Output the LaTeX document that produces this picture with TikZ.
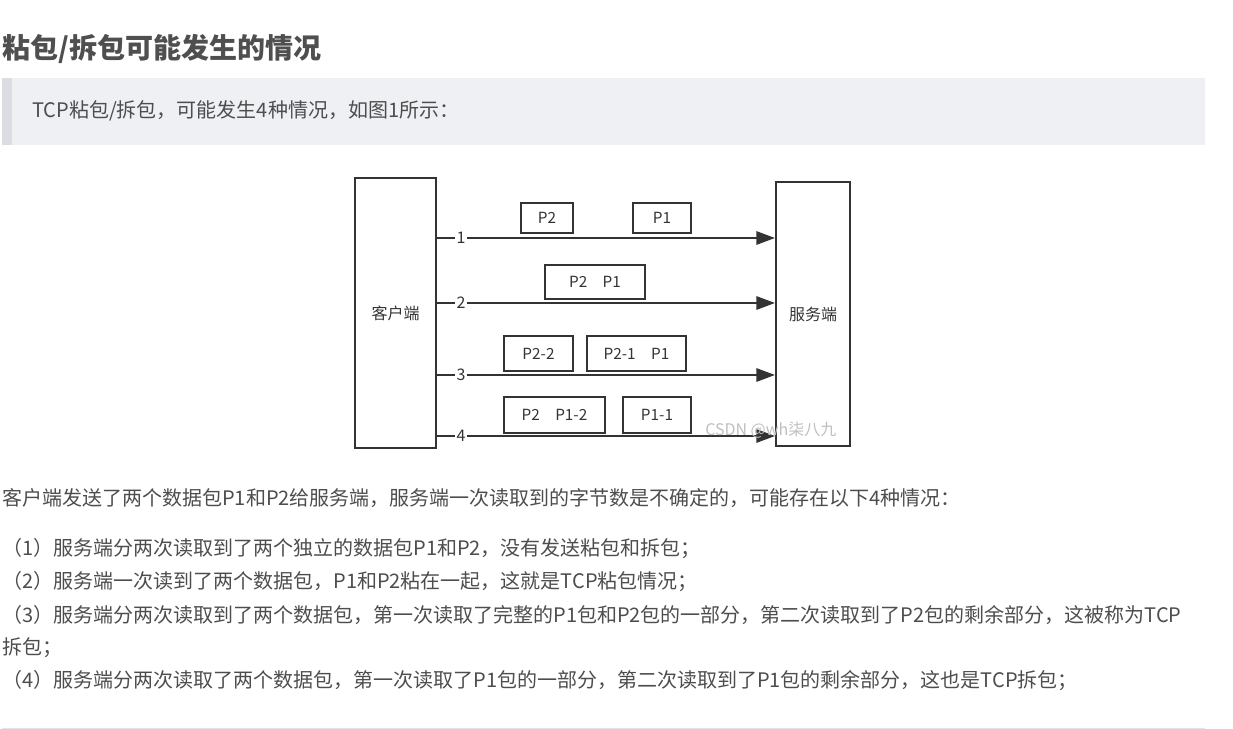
\documentclass[tikz,border=0pt]{standalone}
\usepackage{fontspec}
\setmainfont{Noto Sans CJK SC}
\usepackage{tikz}
\usetikzlibrary{arrows.meta}
\definecolor{txtgray}{HTML}{4D4D4D}
\definecolor{titlegray}{HTML}{4F4F4F}
\definecolor{linegray}{HTML}{333333}
\definecolor{quotebg}{HTML}{EEF0F4}
\definecolor{quotebar}{HTML}{DCDDE2}
\definecolor{rulegray}{HTML}{E3E3E3}

\begin{document}
\begin{tikzpicture}[x=0.75pt,y=-0.75pt,>={Triangle[length=14pt,width=10pt]},
  box/.style={draw=linegray,line width=1.5pt,inner sep=0pt,text=linegray,font=\fontsize{12pt}{12pt}\selectfont},
  pkt/.style n args={2}{box,minimum width=#1*0.75pt,minimum height=#2*0.75pt,font=\fontsize{11.5pt}{12pt}\selectfont},
  num/.style={inner sep=1pt,text=linegray,font=\fontsize{12pt}{12pt}\selectfont},
  link/.style={->,draw=linegray,line width=1.5pt},
  body/.style={anchor=west,inner sep=0pt,text=txtgray,font=\fontsize{15pt}{15pt}\selectfont}]
  \useasboundingbox (0,0) rectangle (1233,729);
  \fill[quotebg] (2,78) rectangle (1205,145);
  \fill[quotebar] (2,78) rectangle (12,145);
  \node[body,text=titlegray,font=\bfseries\fontsize{21pt}{21pt}\selectfont] (title) at (2,49) {粘包/拆包可能发生的情况};
  \node[body] (quote) at (32,111) {TCP粘包/拆包，可能发生4种情况，如图1所示：};

  \node[box,minimum width=81*0.75pt,minimum height=270*0.75pt] (client) at (395.5,313) {客户端};
  \node[box,minimum width=74*0.75pt,minimum height=264*0.75pt] (server) at (813,314) {服务端};
  \foreach \i/\y in {1/238,2/303,3/375,4/436}{
    \node[num] (n\i) at (461,\y) {\i};
    \draw[link] (client.east |- n\i) -- (n\i) -- (server.west |- n\i);
  }
  \node[pkt={52}{30}] (pa) at (547,218) {P2};
  \node[pkt={58}{30}] (pb) at (662,218) {P1};
  \node[pkt={100}{34}] (pc) at (595,282) {P2\hspace{1em}P1};
  \node[pkt={69}{35}] (pd) at (538.5,353.5) {P2-2};
  \node[pkt={99}{35}] (pe) at (636.5,353.5) {P2-1\hspace{1em}P1};
  \node[pkt={101}{36}] (pf) at (554.5,415) {P2\hspace{1em}P1-2};
  \node[pkt={68}{36}] (pg) at (657,415) {P1-1};
  \node[anchor=west,inner sep=0pt,text=black!25,font=\fontsize{12pt}{12pt}\selectfont] (mark) at (705,430) {CSDN @wh柒八九};

  \node[body] (intro) at (2,498) {客户端发送了两个数据包P1和P2给服务端，服务端一次读取到的字节数是不确定的，可能存在以下4种情况：};
  \node[body] (case1) at (2,549) {（1）服务端分两次读取到了两个独立的数据包P1和P2，没有发送粘包和拆包；};
  \node[body] (case2) at (2,582) {（2）服务端一次读到了两个数据包，P1和P2粘在一起，这就是TCP粘包情况；};
  \node[body] (case3) at (2,615) {（3）服务端分两次读取到了两个数据包，第一次读取了完整的P1包和P2包的一部分，第二次读取到了P2包的剩余部分，这被称为TCP};
  \node[body] (case3b) at (2,648) {拆包；};
  \node[body] (case4) at (2,681) {（4）服务端分两次读取了两个数据包，第一次读取了P1包的一部分，第二次读取到了P1包的剩余部分，这也是TCP拆包；};
  \draw[rulegray,line width=0.75pt] (2,728) -- (1205,728);
\end{tikzpicture}
\end{document}
